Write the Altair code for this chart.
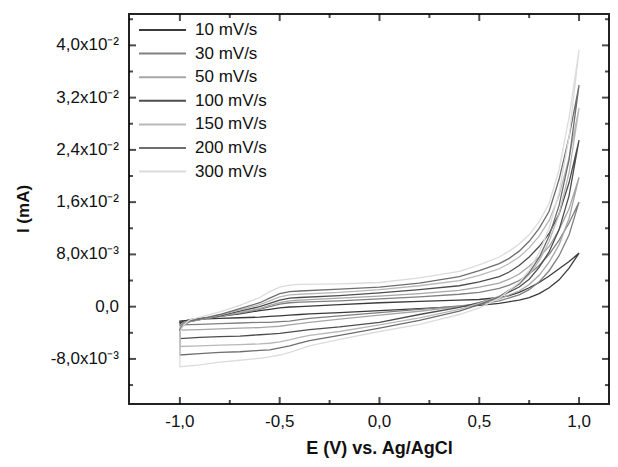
import altair as alt
import pandas as pd

RATES = ["10 mV/s", "30 mV/s", "50 mV/s", "100 mV/s", "150 mV/s", "200 mV/s", "300 mV/s"]
COLORS = ["#3a3a3a", "#808080", "#a6a6a6", "#4d4d4d", "#b8b8b8", "#6e6e6e", "#dcdcdc"]

# potential (V) of forward (anodic) and reverse scans
E_FWD = [-1.0, -0.98, -0.95, -0.9, -0.8, -0.7, -0.6, -0.55, -0.5, -0.45, -0.4, -0.2, 0.0,
         0.2, 0.4, 0.5, 0.6, 0.65, 0.7, 0.75, 0.8, 0.85, 0.9, 0.95, 1.0]
E_REV = [0.95, 0.9, 0.85, 0.8, 0.75, 0.7, 0.6, 0.5, 0.4, 0.2, 0.0, -0.2, -0.35, -0.4,
         -0.45, -0.5, -0.55, -0.6, -0.7, -0.8, -0.9, -1.0]

# currents in units of 1e-3 mA
FWD_10 = [-2.6, -2.2, -2.0, -1.8, -1.5, -1.1, -0.6, -0.4, -0.2, -0.05, 0.0, 0.3, 0.6, 0.8, 1.0, 1.1, 1.4, 1.7, 2.2, 2.9, 3.7, 4.7, 5.8, 6.9, 8.2]
REV_10 = [5.9, 4.1, 2.9, 2.0, 1.4, 1.0, 0.5, 0.2, 0.0, -0.3, -0.6, -0.9, -1.1, -1.2, -1.3, -1.4, -1.5, -1.6, -1.7, -1.8, -1.9, -2.2]
FWD_30 = [-3.0, -2.4, -2.1, -1.9, -1.5, -1.0, -0.4, 0.0, 0.4, 0.6, 0.7, 0.9, 1.2, 1.5, 1.9, 2.2, 2.8, 3.3, 4.0, 5.0, 6.3, 8.0, 10.2, 12.8, 16.0]
REV_30 = [11.0, 7.8, 5.5, 3.8, 2.6, 1.8, 0.9, 0.4, 0.1, -0.4, -0.9, -1.4, -1.8, -2.0, -2.2, -2.3, -2.4, -2.4, -2.5, -2.6, -2.7, -2.8]
FWD_50 = [-3.2, -2.5, -2.2, -2.0, -1.5, -0.9, -0.3, 0.2, 0.6, 0.9, 1.0, 1.3, 1.6, 2.0, 2.5, 3.0, 3.6, 4.2, 5.0, 6.2, 7.6, 9.2, 11.8, 15.0, 19.8]
REV_50 = [13.5, 9.5, 6.8, 4.8, 3.4, 2.4, 1.2, 0.5, 0.0, -0.7, -1.3, -1.9, -2.4, -2.6, -2.8, -3.0, -3.1, -3.2, -3.3, -3.4, -3.5, -3.6]
FWD_100 = [-3.5, -2.7, -2.3, -2.0, -1.4, -0.7, 0.0, 0.5, 1.0, 1.3, 1.4, 1.7, 2.1, 2.6, 3.2, 3.8, 4.6, 5.3, 6.3, 7.6, 9.2, 11.2, 14.2, 19.0, 25.5]
REV_100 = [17.0, 11.8, 8.4, 6.0, 4.2, 3.0, 1.5, 0.6, -0.1, -1.2, -2.4, -3.1, -3.5, -3.7, -3.9, -4.1, -4.2, -4.3, -4.5, -4.6, -4.7, -4.9]
FWD_150 = [-3.6, -2.8, -2.3, -2.0, -1.3, -0.5, 0.3, 0.9, 1.5, 1.8, 1.9, 2.2, 2.6, 3.2, 4.0, 4.8, 5.8, 6.6, 7.6, 9.0, 10.8, 13.2, 17.0, 22.8, 30.4]
REV_150 = [20.5, 14.2, 10.0, 7.0, 4.9, 3.4, 1.6, 0.5, -0.4, -1.7, -2.8, -3.8, -4.4, -4.7, -5.1, -5.4, -5.6, -5.7, -5.8, -5.9, -6.0, -6.1]
FWD_200 = [-3.6, -2.8, -2.2, -1.9, -1.2, -0.3, 0.6, 1.3, 2.0, 2.3, 2.4, 2.7, 3.0, 3.6, 4.6, 5.5, 6.6, 7.4, 8.5, 10.0, 12.0, 14.6, 19.5, 26.0, 33.9]
REV_200 = [22.5, 15.5, 10.8, 7.5, 5.2, 3.5, 1.5, 0.3, -0.7, -2.1, -3.3, -4.4, -5.2, -5.6, -6.0, -6.3, -6.6, -6.7, -6.9, -7.0, -7.2, -7.4]
FWD_300 = [-3.8, -2.8, -2.0, -1.6, -0.8, 0.2, 1.4, 2.3, 3.0, 3.3, 3.4, 3.5, 3.7, 4.4, 5.4, 6.4, 7.6, 8.5, 9.6, 11.0, 13.0, 15.8, 21.0, 29.0, 39.3]
REV_300 = [26.0, 17.5, 12.0, 8.3, 5.6, 3.7, 1.3, -0.2, -1.2, -2.7, -3.8, -5.0, -6.0, -6.5, -7.0, -7.4, -7.7, -7.9, -8.2, -8.5, -8.9, -9.2]

SERIES = [(FWD_10, REV_10), (FWD_30, REV_30), (FWD_50, REV_50), (FWD_100, REV_100),
          (FWD_150, REV_150), (FWD_200, REV_200), (FWD_300, REV_300)]

X_MAJOR = [-1.0, -0.5, 0.0, 0.5, 1.0]
X_LABELS = ["-1,0", "-0,5", "0,0", "0,5", "1,0"]
X_MINOR = [-0.75, -0.25, 0.25, 0.75]
Y_MAJOR = [-0.008, 0.0, 0.008, 0.016, 0.024, 0.032, 0.040]
Y_LABELS = ["-8,0x10\u207b\u00b3", "0,0", "8,0x10\u207b\u00b3", "1,6x10\u207b\u00b2",
            "2,4x10\u207b\u00b2", "3,2x10\u207b\u00b2", "4,0x10\u207b\u00b2"]
Y_MINOR = [-0.012, -0.004, 0.004, 0.012, 0.020, 0.028, 0.036, 0.044]
X_TITLE = "E (V) vs. Ag/AgCl"
Y_TITLE = "I (mA)"

X_DOM = [-1.255, 1.15]
Y_DOM = [-0.0149, 0.0448]

rows = []
for rate, (fwd, rev) in zip(RATES, SERIES):
    es = E_FWD + E_REV + [E_FWD[0]]
    cs = fwd + rev + [fwd[0]]
    for k, (e, c) in enumerate(zip(es, cs)):
        rows.append({"rate": rate, "E": e, "I": c * 1e-3, "idx": k})
df = pd.DataFrame(rows)

FONT = "Liberation Sans"
x_scale = alt.Scale(domain=X_DOM, nice=False, zero=False)
y_scale = alt.Scale(domain=Y_DOM, nice=False, zero=False)

lines = alt.Chart(df).mark_line(strokeWidth=1.3).encode(
    x=alt.X("E:Q", scale=x_scale, axis=None),
    y=alt.Y("I:Q", scale=y_scale, axis=None),
    color=alt.Color("rate:N", scale=alt.Scale(domain=RATES, range=COLORS),
                    legend=alt.Legend(orient="none", legendX=9, legendY=6, title=None,
                                      symbolType="stroke", symbolSize=2209,
                                      symbolStrokeWidth=2, clipHeight=20, rowPadding=3.6,
                                      labelFont=FONT, labelFontSize=17, labelColor="#111",
                                      labelOffset=8, padding=0)),
    detail="rate:N",
    order="idx:Q",
)


# inward tick marks on all four sides of the frame (clipped to the plot area)
def xticks(values, edge, length):
    d = pd.DataFrame({"v": values})
    return alt.Chart(d).mark_tick(orient="vertical", thickness=2, size=2 * length,
                                  color="black", clip=True).encode(
        x=alt.X("v:Q", scale=x_scale, axis=None),
        y=alt.YDatum(edge, scale=y_scale, axis=None),
    )


def yticks(values, edge, length):
    d = pd.DataFrame({"v": values})
    return alt.Chart(d).mark_tick(orient="horizontal", thickness=2, size=2 * length,
                                  color="black", clip=True).encode(
        y=alt.Y("v:Q", scale=y_scale, axis=None),
        x=alt.XDatum(edge, scale=x_scale, axis=None),
    )


tick_layers = [
    xticks(X_MAJOR, Y_DOM[0], 7), xticks(X_MINOR, Y_DOM[0], 4),
    xticks(X_MAJOR, Y_DOM[1], 7), xticks(X_MINOR, Y_DOM[1], 4),
    yticks(Y_MAJOR, X_DOM[0], 7), yticks(Y_MINOR, X_DOM[0], 4),
    yticks(Y_MAJOR, X_DOM[1], 7), yticks(Y_MINOR, X_DOM[1], 4),
]

# tick labels and axis titles
x_lab = alt.Chart(pd.DataFrame({"v": X_MAJOR, "t": X_LABELS})).mark_text(
    font=FONT, fontSize=17, color="#111", baseline="middle", align="center", dy=18
).encode(
    x=alt.X("v:Q", scale=x_scale, axis=None),
    y=alt.YDatum(Y_DOM[0], scale=y_scale, axis=None),
    text="t:N",
)
y_lab = alt.Chart(pd.DataFrame({"v": Y_MAJOR, "t": Y_LABELS})).mark_text(
    font=FONT, fontSize=17, color="#111", baseline="middle", align="right", dx=-10
).encode(
    y=alt.Y("v:Q", scale=y_scale, axis=None),
    x=alt.XDatum(X_DOM[0], scale=x_scale, axis=None),
    text="t:N",
)
x_title = alt.Chart(pd.DataFrame({"t": [X_TITLE]})).mark_text(
    font=FONT, fontSize=18, fontWeight="bold", color="#111", baseline="alphabetic",
    align="center", dy=50
).encode(
    x=alt.XDatum(0.0, scale=x_scale, axis=None),
    y=alt.YDatum(Y_DOM[0], scale=y_scale, axis=None),
    text="t:N",
)
y_title = alt.Chart(pd.DataFrame({"t": [Y_TITLE]})).mark_text(
    font=FONT, fontSize=17, fontWeight="bold", color="#111", baseline="alphabetic",
    align="center", angle=270, dy=-100
).encode(
    x=alt.XDatum(X_DOM[0], scale=x_scale, axis=None),
    y=alt.YDatum((Y_DOM[0] + Y_DOM[1]) / 2, scale=y_scale, axis=None),
    text="t:N",
)

chart = alt.layer(lines, *tick_layers, x_lab, y_lab, x_title, y_title).properties(
    width=480, height=390,
    padding={"left": 121, "top": 6, "right": 1, "bottom": 55},
    autosize=alt.AutoSizeParams(type="none"),
).configure_view(stroke="#222", strokeWidth=2)

chart.save("out.html", embed_options={"renderer": "svg", "actions": False})
